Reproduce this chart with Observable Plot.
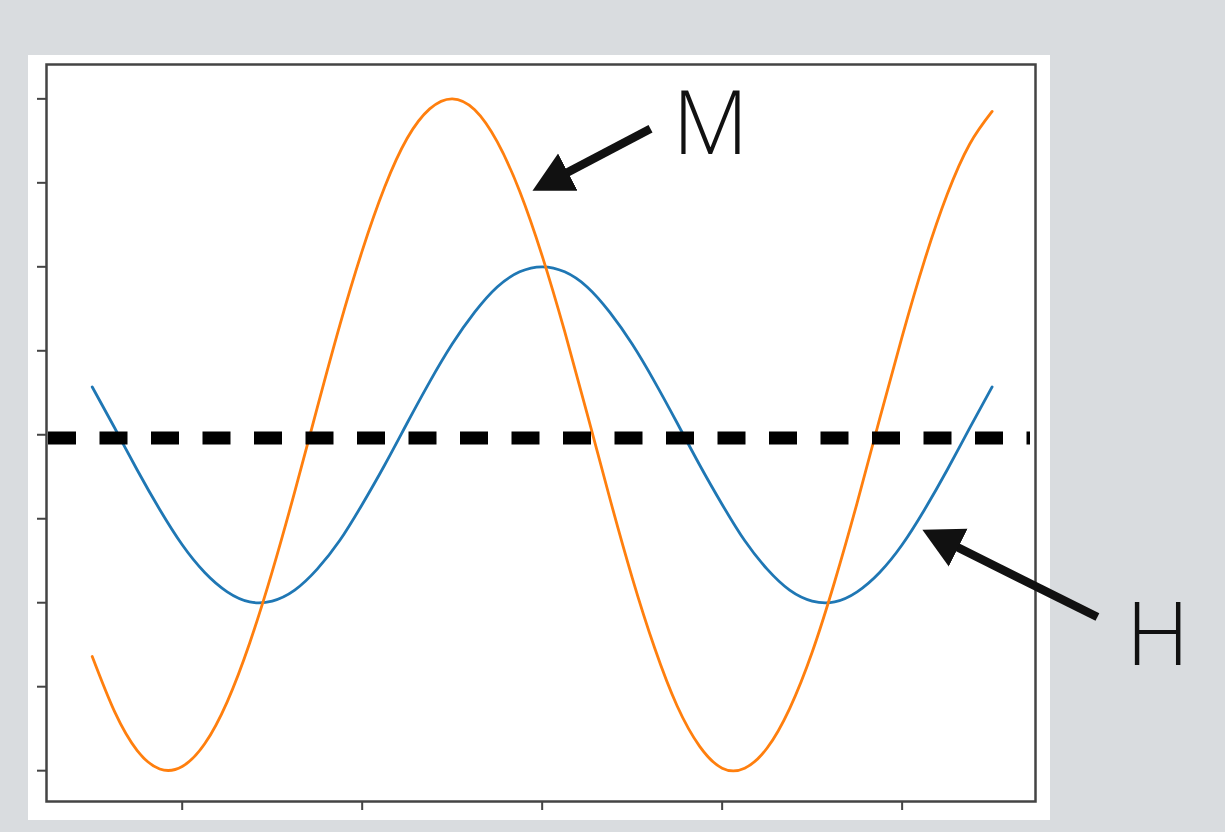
<!DOCTYPE html>
<html>
<head>
<meta charset="utf-8">
<script src="https://cdn.jsdelivr.net/npm/d3@7"></script>
<script src="https://cdn.jsdelivr.net/npm/@observablehq/plot@0.6"></script>
<style>
  html, body { margin: 0; padding: 0; background: #d9dcdf; width: 1225px; height: 832px; overflow: hidden; }
  #panel { position: absolute; left: 28px; top: 55px; width: 1022px; height: 765px; background: #ffffff; }
  #chart { position: absolute; left: 0; top: 0; }
  #chart svg { background: transparent !important; }
</style>
</head>
<body>
<div id="panel"></div>
<div id="chart"></div>
<script>
// ---- data ----
const xValues = [-2.5, -2.375, -2.25, -2.125, -2.0, -1.875, -1.75, -1.625, -1.5, -1.375, -1.25, -1.125, -1.0, -0.875, -0.75, -0.625, -0.5, -0.375, -0.25, -0.125,
  0, 0.125, 0.25, 0.375, 0.5, 0.625, 0.75, 0.875, 1.0, 1.125, 1.25, 1.375, 1.5, 1.625, 1.75, 1.875, 2.0, 2.125, 2.25, 2.375, 2.5];
const hValues = [0.57, 0.08, -0.42, -0.89, -1.31, -1.64, -1.87, -1.99, -1.98, -1.85, -1.60, -1.26, -0.83, -0.36, 0.14, 0.63, 1.08, 1.46, 1.76, 1.94,
  2.00, 1.94, 1.76, 1.46, 1.08, 0.63, 0.14, -0.36, -0.83, -1.26, -1.60, -1.85, -1.98, -1.99, -1.87, -1.64, -1.31, -0.89, -0.42, 0.08, 0.57];
const mValues = [-2.64, -3.30, -3.76, -3.98, -3.95, -3.68, -3.18, -2.48, -1.63, -0.68, 0.32, 1.30, 2.19, 2.95, 3.53, 3.88, 4.00, 3.87, 3.49, 2.90,
  2.13, 1.23, 0.25, -0.75, -1.70, -2.54, -3.23, -3.71, -3.97, -3.97, -3.73, -3.26, -2.59, -1.75, -0.81, 0.19, 1.17, 2.08, 2.86, 3.46, 3.85];
const xTicks = [-2, -1, 0, 1, 2];
const yTicks = [-4, -3, -2, -1, 0, 1, 2, 3, 4];
const refLine = [-0.04];
const labels = ["M", "H"];
const labelX = [0.935, 3.42];
const labelY = [3.684, -2.406];
const arrowX1 = [0.602, 3.085];
const arrowY1 = [3.645, -2.170];
const arrowX2 = [0.010, 2.177];
const arrowY2 = [2.977, -1.200];

const hData = xValues.map((x, i) => ({x, y: hValues[i]}));
const mData = xValues.map((x, i) => ({x, y: mValues[i]}));
const labelData = labels.map((t, i) => ({t, x: labelX[i], y: labelY[i]}));
const arrowData = labels.map((t, i) => ({x1: arrowX1[i], y1: arrowY1[i], x2: arrowX2[i], y2: arrowY2[i]}));

function headMarker(color) {
  const ns = "http://www.w3.org/2000/svg";
  const m = document.createElementNS(ns, "marker");
  m.setAttribute("viewBox", "0 -22 42 44");
  m.setAttribute("markerWidth", "42");
  m.setAttribute("markerHeight", "44");
  m.setAttribute("markerUnits", "userSpaceOnUse");
  m.setAttribute("refX", "27");
  m.setAttribute("refY", "0");
  m.setAttribute("orient", "auto");
  const p = document.createElementNS(ns, "path");
  p.setAttribute("d", "M0,-21L40,0L0,21Z");
  p.setAttribute("fill", "#111");
  p.setAttribute("stroke", "none");
  m.appendChild(p);
  return m;
}

function build(useCustomMarker) {
  const arrowMark = useCustomMarker
    ? Plot.link(arrowData, {x1: "x1", y1: "y1", x2: "x2", y2: "y2", stroke: "#111", strokeWidth: 8.5, markerEnd: headMarker})
    : Plot.arrow(arrowData, {x1: "x1", y1: "y1", x2: "x2", y2: "y2", stroke: "#111", strokeWidth: 8.5, headLength: 30});
  return Plot.plot({
    width: 1225,
    height: 832,
    marginLeft: 46,
    marginRight: 190,
    marginTop: 64,
    marginBottom: 31,
    style: {background: "transparent", overflow: "visible"},
    x: {domain: [-2.754, 2.741]},
    y: {domain: [-4.367, 4.409]},
    marks: [
      Plot.axisY(yTicks, {tickSize: 9, tickFormat: () => "", stroke: "#444", strokeWidth: 2, label: null}),
      Plot.axisX(xTicks, {tickSize: 9, tickFormat: () => "", stroke: "#444", strokeWidth: 2, label: null}),
      Plot.line(hData, {x: "x", y: "y", stroke: "#1f77b4", strokeWidth: 2.8, curve: "natural"}),
      Plot.line(mData, {x: "x", y: "y", stroke: "#ff7f0e", strokeWidth: 2.8, curve: "natural"}),
      Plot.ruleY(refLine, {stroke: "#000", strokeWidth: 13, strokeDasharray: "28,23.5", insetLeft: 2, insetRight: 5}),
      Plot.frame({stroke: "#444", strokeWidth: 2.5}),
      arrowMark,
      Plot.text(labelData, {x: "x", y: "y", text: "t", fontSize: 88, fontFamily: "'Open Sans', 'DejaVu Sans', sans-serif", fontWeight: 300, fill: "#111", textAnchor: "middle"})
    ]
  });
}

let chart;
try {
  chart = build(true);
} catch (e) {
  chart = build(false);
}
document.getElementById("chart").appendChild(chart);
</script>
</body>
</html>
